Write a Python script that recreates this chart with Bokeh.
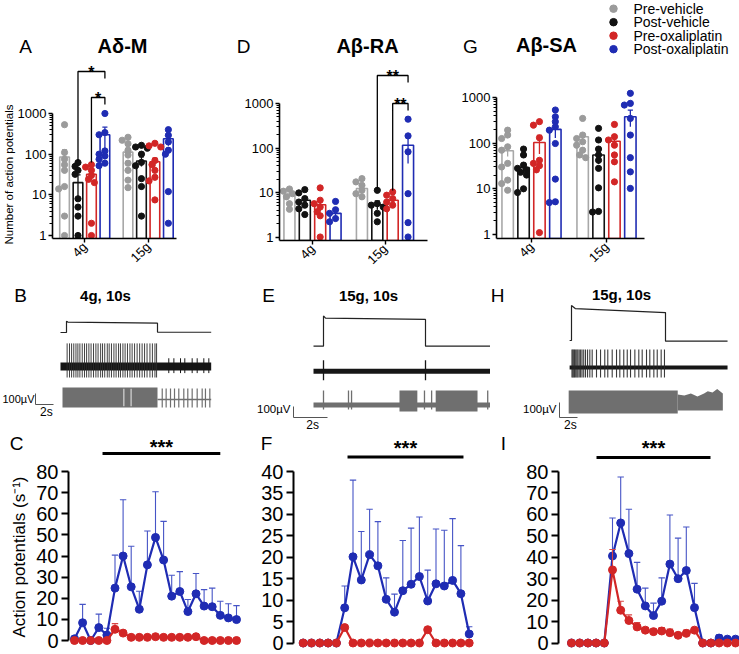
import math
from bokeh.plotting import figure
from bokeh.layouts import column, row
from bokeh.models import Range1d, FixedTicker, Label, PrintfTickFormatter, Title
from bokeh.embed import file_html
from bokeh.resources import INLINE

FONT = "Liberation Sans"
GRAY, BLACK, RED, BLUE = "#9b9b9b", "#121212", "#d22626", "#1f2cb3"
DOT_COLORS = [GRAY, BLACK, RED, BLUE]
BAR_COLORS = ["#a8a8a8", "#121212", "#d22626", "#1f2cb3"]
TRACE_DARK = "#161616"
TRACE_GRAY = "#6f6f6f"

# ---------------- data ----------------
groups = ["4g", "15g"]
series = ["Pre-vehicle", "Post-vehicle", "Pre-oxaliplatin", "Post-oxaliplatin"]
log_ticks = [1, 10, 100, 1000]

# A: Adelta-M  (per group: [pre-veh, post-veh, pre-oxa, post-oxa])
adm_mean = [[85, 20, 32, 300], [112, 68, 65, 240]]
adm_sem = [[45, 11, 9, 160], [22, 18, 15, 80]]
adm_dots = [
    [[530, 110, 75, 55, 40, 16, 14, 3, 1],
     [62, 50, 40, 32, 8, 5, 3, 1],
     [55, 48, 40, 30, 24, 20, 2, 1],
     [1000, 340, 300, 120, 100, 90, 75, 60, 52]],
    [[260, 220, 180, 125, 95, 60, 40, 23, 15],
     [165, 150, 140, 100, 63, 52, 25, 16, 3],
     [185, 160, 150, 70, 55, 40, 27, 22, 7.5],
     [400, 290, 200, 125, 100, 12, 2]],
]
# D: Abeta-RA
ara_mean = [[8.7, 6.7, 5.3, 3.4], [12.3, 5.3, 6.7, 115]]
ara_sem = [[1.0, 1.1, 1.5, 0.5], [1.8, 1.2, 0.8, 70]]
ara_dots = [
    [[12, 10.7, 9.4, 8, 5.6, 4.2],
     [11.6, 9.8, 7.3, 6.1, 5.2, 4.3, 3.2],
     [12.7, 6.7, 5.6, 4.7, 3.7, 3, 1],
     [6.3, 4.1, 3.4, 2.6, 2.2]],
    [[20.5, 17.3, 14.5, 11.2, 9.4, 8],
     [11.2, 5.6, 5.2, 4.7, 3.4, 2.2],
     [10.3, 8.7, 7.3, 6.1, 5.2, 4.3],
     [445, 187, 82, 9.4, 2.1, 1]],
]
# G: Abeta-SA
asa_mean = [[68, 29, 103, 200], [138, 55, 110, 377]]
asa_sem = [[17, 7, 45, 70], [25, 20, 22, 150]]
asa_dots = [
    [[192, 150, 126, 83, 70, 36, 30, 15.5, 13, 9.3],
     [74, 55, 33, 28, 26, 23, 20, 10, 8.3],
     [295, 247, 131, 42, 36, 32, 26, 1.1],
     [530, 377, 295, 228, 192, 98, 16.3, 5.2, 5]],
    [[347, 150, 126, 107, 90, 70, 55, 48],
     [210, 117, 74, 55, 42, 28, 10.5, 3.2, 3.1],
     [256, 138, 117, 90, 55, 39, 14.2],
     [1230, 740, 680, 347, 150, 48, 23.5, 10.2]],
]

# time-course panels (1-s bins)
bins = list(range(21))
c_post = [0.8, 8.4, 0.0, 6.1, 2.6, 24.8, 40.0, 25.4, 14.8, 35.8, 48.8, 38.1, 21.0, 23.2, 13.7, 22.1, 16.3, 16.0, 11.9, 10.7, 9.9]
c_post_sem = [0.0, 8.7, 0.0, 6.4, 3.2, 15.6, 26.6, 19.2, 8.5, 16.0, 21.6, 18.3, 9.9, 9.4, 5.7, 9.6, 7.8, 8.8, 6.7, 6.7, 6.6]
c_pre = [0, 0, 0, 0, 0, 5.3, 3.5, 1.5, 1.5, 1.5, 1.8, 1.5, 1.5, 1.5, 1.5, 1.8, 0, 0, 0, 0, 0]
c_pre_sem = [0, 0, 0, 0, 0, 2.7, 0.8, 0, 0, 0, 0, 0, 0, 0, 0, 0, 0, 0, 0, 0, 0]
f_post = [0, 0, 0, 0, 0, 8.2, 20.1, 14.7, 20.6, 18.0, 10.2, 7.2, 12.2, 13.7, 15.5, 9.8, 13.8, 13.3, 14.6, 11.5, 2.1]
f_post_sem = [0, 0, 0, 0, 0, 5.1, 17.9, 11.3, 10.6, 10.3, 5.0, 4.2, 11.7, 13.1, 13.9, 7.2, 12.8, 13.0, 14.4, 11.2, 1.7]
f_pre = [0, 0, 0, 0, 0, 3.6, 0, 0, 0, 0, 0, 0, 0, 0, 0, 3.1, 0, 0, 0, 0, 0]
f_pre_sem = [0] * 21
i_post = [0, 0, 0, 0, 0, 40.6, 56.0, 41.7, 25.1, 17.3, 12.8, 19.5, 36.8, 30.0, 33.8, 16.5, 0, 0, 2.3, 1.8, 1.8]
i_post_sem = [0, 0, 0, 0, 0, 17.7, 21.4, 20.7, 12.5, 8.3, 5.8, 10.9, 22.9, 18.9, 20.3, 11.3, 0, 0, 1.5, 0.8, 0.8]
i_pre = [0, 0, 0, 0, 0, 34.1, 15.3, 10.5, 7.5, 6.0, 5.3, 5.6, 4.8, 3.6, 4.5, 6.0, 0, 0, 0, 0, 0]
i_pre_sem = [0, 0, 0, 0, 0, 9.5, 4.2, 2.6, 2.0, 1.2, 1.3, 1.6, 1.7, 1.2, 1.5, 0.8, 0, 0, 0, 0, 0]
# significance bars (first bin, last bin)
c_sig = (3.46, 18.0)
f_sig = (5.34, 19.31)
i_sig = (3.05, 16.95)

# example recordings (times in s from stimulus onset, amplitudes in uV, force in g)
b_stim_t = [-0.66, 0.0, 0.0, 0.15, 10.0, 10.0, 15.9]
b_stim_g = [0, 0, 4.3, 4.0, 3.6, 0.1, 0.1]
b_unit_t = [0.07, 0.33, 0.56, 0.80, 1.04, 1.25, 1.47, 1.73, 1.98, 2.21, 2.46, 2.70, 2.97, 3.23,
            3.47, 3.75, 3.96, 4.20, 4.48, 4.69, 4.94, 5.21, 5.45, 5.72, 5.93, 6.20, 6.44, 6.70,
            6.97, 7.21, 7.48, 7.76, 8.04, 8.31, 8.58, 8.85, 9.17, 9.44, 9.72, 9.90]
b_unit_late_t = [11.24, 11.80, 12.53, 13.00, 13.81, 14.36, 15.09, 15.64]
b_filt_gap_t = [6.3, 7.1]
b_filt_late_t = [10.52, 10.95, 11.43, 11.87, 12.34, 12.89, 13.33, 13.81, 14.36, 14.91, 15.27, 15.75]

e_stim_t = [-0.98, 0.0, 0.0, 0.2, 10.0, 10.0, 17.1]
e_stim_g = [0, 0, 16.2, 15.0, 14.3, 0, 0]
e_unit_t = [0.0, 10.0]
e_filt_t = [0.0, 2.45, 2.75, 9.9, 10.6, 16.1]
e_burst_start = [7.45, 11.0]
e_burst_end = [9.2, 15.1]

h_stim_t = [-0.2, 0.0, 0.0, 0.4, 10.0, 10.0, 16.6]
h_stim_g = [0, 0, 16.4, 15.0, 13.1, -0.3, -0.3]
h_unit_t = [0.05, 0.14, 0.24, 0.33, 0.45, 0.57, 0.68, 0.82, 0.97, 1.12, 1.30, 1.49, 1.71, 1.95,
            2.20, 2.66, 3.09, 3.54, 3.86, 4.33, 4.79, 5.14, 5.56, 5.93, 6.28, 6.74, 7.16, 7.52,
            7.98, 8.33, 8.76, 9.12, 9.54, 9.89]
h_post_t = [11.3, 12.0, 12.7, 13.4, 14.1, 14.5, 15.0, 15.5, 16.1]
h_post_up = [53, 47, 60, 40, 60, 75, 67, 90, 60]

OFFSETS = [-0.318, -0.106, 0.106, 0.318]
BAR_W = 0.152


def no_align(p):
    if "frame_align" in p.properties():
        p.frame_align = False
    return p


def add_label(p, x, y, text, size, bold=False, align="center", baseline="middle", angle=0.0):
    p.add_layout(Label(x=x, y=y, text=text, text_font=FONT, text_font_size=f"{size}px",
                       text_font_style="bold" if bold else "normal", text_color="black",
                       text_align=align, text_baseline=baseline, angle=angle))


def blank_fig(x0, w, y0, h):
    """Text-only strip in page-pixel coordinates (y grows downward)."""
    p = figure(width=w, height=h, x_range=Range1d(x0, x0 + w), y_range=Range1d(y0 + h, y0),
               x_axis_type=None, y_axis_type=None, output_backend="svg", toolbar_location=None,
               min_border_left=0, min_border_right=0, min_border_top=0, min_border_bottom=0)
    p.outline_line_color = None
    p.grid.visible = False
    return no_align(p)


def swarm_px(vals, cx, sy_of, step=3.0, mind=4.8):
    placed, xs = [], []
    for v in vals:
        y = sy_of(v)
        chosen = cx
        for k in (0, -1, 1, -2, 2):
            x = cx + k * step
            if all((x - a) ** 2 + (y - b) ** 2 >= mind ** 2 for a, b in placed):
                chosen = x
                break
        placed.append((chosen, y))
        xs.append(chosen)
    return xs


ROW1_TOP, ROW1_BOT = 57, 282


def bar_panel(geo, means, sems, dots, brackets):
    fx, fw, fl, fr, fb = geo["fx"], geo["fw"], geo["fl"], geo["fr"], geo["fb"]
    fy = ROW1_TOP
    fh = ROW1_BOT - fy
    c4, gap, y1, ppd = geo["c4"], geo["gap"], geo["y1"], geo["ppd"]
    X = lambda sx: 1 + (sx - c4) / gap
    Y = lambda sy: 10 ** ((y1 - sy) / ppd)
    SY = lambda v: y1 - ppd * math.log10(v)
    ybot = Y(fb)
    p = figure(width=fw, height=fh, x_range=Range1d(X(fl), X(fr)), y_range=Range1d(ybot, Y(fy)),
               y_axis_type="log", output_backend="svg", toolbar_location=None,
               min_border_left=fl - fx, min_border_right=fx + fw - fr,
               min_border_top=0, min_border_bottom=fy + fh - fb)
    no_align(p)
    p.grid.visible = False
    p.outline_line_color = None
    for gi in range(len(groups)):
        xs = [gi + 1 + o for o in OFFSETS]
        p.vbar(x=xs, width=BAR_W, bottom=ybot, top=means[gi], fill_color=None,
               line_color=BAR_COLORS, line_width=1.6)
        lo = [max(m - s, ybot) for m, s in zip(means[gi], sems[gi])]
        hi = [m + s for m, s in zip(means[gi], sems[gi])]
        cw = 2.6 / gap
        p.segment(x0=xs, y0=lo, x1=xs, y1=hi, line_color=BAR_COLORS, line_width=1.3)
        p.segment(x0=[x - cw for x in xs], y0=hi, x1=[x + cw for x in xs], y1=hi,
                  line_color=BAR_COLORS, line_width=1.3)
        for si in range(len(series)):
            cpx = c4 + (gi + OFFSETS[si]) * gap
            pxs = swarm_px(dots[gi][si], cpx, SY)
            p.scatter(x=[X(v) for v in pxs], y=dots[gi][si], size=6.2,
                      fill_color=DOT_COLORS[si], line_color=DOT_COLORS[si])
    for gi, s_l, s_r, ytop, yend, txt in brackets:
        xl = gi + 1 + OFFSETS[s_l]
        xr = gi + 1 + OFFSETS[s_r]
        p.line(x=[xl, xl, xr, xr], y=[Y(yend), Y(ytop), Y(ytop), Y(ytop + 7)],
               line_color="black", line_width=1.3)
        add_label(p, (xl + xr) / 2, Y(ytop + 1), txt, 16, bold=True, baseline="alphabetic")

    yax = p.yaxis[0]
    yax.ticker = FixedTicker(ticks=log_ticks,
                             minor_ticks=[m * 10 ** k for k in range(3) for m in range(2, 10)])
    yax.formatter = PrintfTickFormatter(format="%d")
    yax.bounds = (ybot, 1000)
    xax = p.xaxis[0]
    xax.ticker = FixedTicker(ticks=[1, 2])
    xax.major_label_overrides = {1: groups[0], 2: groups[1]}
    xax.major_label_orientation = math.pi / 4
    for ax in (xax, yax):
        ax.axis_line_width = 1.6
        ax.axis_line_color = "black"
        ax.major_tick_line_width = 1.4
        ax.major_tick_out = 4
        ax.major_tick_in = 0
        ax.minor_tick_out = 3
        ax.minor_tick_in = 0
        ax.minor_tick_line_width = 1
        ax.major_label_text_font = FONT
        ax.major_label_text_font_size = "13px"
        ax.major_label_text_color = "black"
        ax.major_label_standoff = 2
    return p


ROW3_TOP, ROW3_BOT = 459, 654


def line_panel(geo, post_m, post_s, pre_m, pre_s, ticks, ylabel=None):
    fx, fw, fl, fr = geo["fx"], geo["fw"], geo["fl"], geo["fr"]
    fy = ROW3_TOP
    fh = ROW3_BOT - fy
    X = lambda sx: (sx - geo["x0"]) / geo["pxpu"]
    Y = lambda sy: (geo["zero"] - sy) / geo["ppu"]
    p = figure(width=fw, height=fh, x_range=Range1d(X(fl), X(fr)), y_range=Range1d(Y(fy + fh), Y(fy)),
               x_axis_type=None, output_backend="svg", toolbar_location=None,
               min_border_left=fl - fx, min_border_right=fx + fw - fr,
               min_border_top=0, min_border_bottom=0)
    no_align(p)
    p.grid.visible = False
    p.outline_line_color = None
    capw = 3.2 / geo["pxpu"]
    for m, s, col, ecol in [(post_m, post_s, BLUE, "#4654c6"), (pre_m, pre_s, RED, "#d84444")]:
        xe = [b for b, sv in zip(bins, s) if sv > 0]
        me = [mv for mv, sv in zip(m, s) if sv > 0]
        he = [mv + sv for mv, sv in zip(m, s) if sv > 0]
        p.segment(x0=xe, y0=me, x1=xe, y1=he, line_color=ecol, line_width=1.1)
        p.segment(x0=[x - capw for x in xe], y0=he, x1=[x + capw for x in xe], y1=he,
                  line_color=ecol, line_width=1.1)
        p.line(x=bins, y=m, line_color=col, line_width=2.2)
        p.scatter(x=bins, y=m, size=8, fill_color=col, line_color=col)
    ax = p.yaxis[0]
    ax.ticker = FixedTicker(ticks=ticks)
    ax.bounds = (0, ticks[-1])
    ax.axis_line_width = 2
    ax.axis_line_color = "black"
    ax.major_tick_line_width = 2
    ax.major_tick_out = 7
    ax.major_tick_in = 0
    ax.minor_tick_out = 0
    ax.minor_tick_in = 0
    ax.major_label_text_font = FONT
    ax.major_label_text_font_size = "20px"
    ax.major_label_text_color = "black"
    ax.major_label_standoff = 3
    if ylabel:
        ax.axis_label = ylabel
        ax.axis_label_text_font = FONT
        ax.axis_label_text_font_size = "17px"
        ax.axis_label_text_font_style = "normal"
        ax.axis_label_text_color = "black"
        ax.axis_label_standoff = 4
    return p


ROW2_TOP, ROW2_BOT = 282, 432


def trace_fig(fx, fw, onset_sx, pxps):
    fh = ROW2_BOT - ROW2_TOP
    X = lambda sx: (sx - onset_sx) / pxps
    Y = lambda sy: ROW2_BOT - sy
    p = figure(width=fw, height=fh, x_range=Range1d(X(fx), X(fx + fw)), y_range=Range1d(0, fh),
               x_axis_type=None, y_axis_type=None, output_backend="svg", toolbar_location=None,
               min_border_left=0, min_border_right=0, min_border_top=0, min_border_bottom=0)
    no_align(p)
    p.outline_line_color = None
    p.grid.visible = False
    return p, X, Y


def scale_bar(p, X, Y, pxps, sx, sy, vpx, hpx, tx_right, ty_v, ty_h, fs=11.5):
    x0 = X(sx)
    p.line(x=[x0, x0, x0 + hpx / pxps], y=[Y(sy) + vpx, Y(sy), Y(sy)], line_color="#555555", line_width=1)
    add_label(p, X(tx_right), Y(ty_v), "100\u00b5V", fs, align="right")
    add_label(p, x0 + hpx / pxps / 2 + 0.2, Y(ty_h), "2s", 12)


# ---------------- row 1: header + bar panels ----------------
hdr1 = blank_fig(0, 739, 0, ROW1_TOP)
add_label(hdr1, 25, 45.5, "A", 19)
add_label(hdr1, 122, 45.5, "A\u03b4-M", 20, bold=True)
add_label(hdr1, 243, 45.5, "D", 19)
add_label(hdr1, 367, 45.5, "A\u03b2-RA", 20, bold=True)
add_label(hdr1, 470, 45.5, "G", 19)
add_label(hdr1, 546, 44.5, "A\u03b2-SA", 20, bold=True)
for i, name in enumerate(series):
    yy = 8.2 + 13.5 * i
    hdr1.scatter(x=[613], y=[yy], size=7.5, fill_color=DOT_COLORS[i], line_color=DOT_COLORS[i])
    add_label(hdr1, 633, yy, name, 14, align="left")

geoA = dict(fx=0, fw=238, fl=49, fr=176, fb=238, c4=82, gap=65, y1=235, ppd=40.67)
geoD = dict(fx=238, fw=218, fl=279, fr=427, fb=240, c4=312, gap=72.5, y1=236.5, ppd=44.5)
geoG = dict(fx=456, fw=283, fl=496, fr=644, fb=238, c4=531, gap=75, y1=234, ppd=45.7)

pA = bar_panel(geoA, adm_mean, adm_sem, adm_dots,
               [(0, 1, 3, 71, 160, "*"), (0, 2, 3, 97, 162, "*")])
pA.add_layout(Title(text="Number of action potentials", text_font=FONT, text_font_size="11.5px",
                    text_font_style="normal", text_color="black", align="left",
                    offset=-6, standoff=0), "left")
pD = bar_panel(geoD, ara_mean, ara_sem, ara_dots,
               [(1, 1, 3, 75, 188, "**"), (1, 2, 3, 103, 190, "**")])
pG = bar_panel(geoG, asa_mean, asa_sem, asa_dots, [])

# ---------------- row 2: recordings ----------------
pB, XB, YB = trace_fig(0, 246, 66, 9.1)
G_B = 0.11
pB.line(x=b_stim_t, y=[YB(332) + g * 2.6 for g in b_stim_g], line_color="#222222", line_width=1.2)
pB.quad(left=[b_stim_t[0]], right=[b_stim_t[-1]], bottom=[YB(366) - 36 * G_B], top=[YB(366) + 36 * G_B],
        fill_color=TRACE_DARK, line_color=None)
pB.segment(x0=b_unit_t, y0=[YB(366) - 100 * G_B] * len(b_unit_t), x1=b_unit_t,
           y1=[YB(366) + 210 * G_B] * len(b_unit_t), line_color="#2b2b2b", line_width=1, line_alpha=0.9)
pB.segment(x0=b_unit_late_t, y0=[YB(366) - 60 * G_B] * len(b_unit_late_t), x1=b_unit_late_t,
           y1=[YB(366) + 75 * G_B] * len(b_unit_late_t), line_color=TRACE_DARK, line_width=1)
pB.quad(left=[-0.44], right=[10.0], bottom=[YB(397) - 91 * G_B], top=[YB(397) + 91 * G_B],
        fill_color=TRACE_GRAY, line_color=None)
pB.segment(x0=b_filt_gap_t, y0=[YB(397) - 80 * G_B] * 2, x1=b_filt_gap_t, y1=[YB(397) + 80 * G_B] * 2,
           line_color="#cfcfcf", line_width=1.3)
pB.line(x=[10.0, b_stim_t[-1]], y=[YB(399), YB(399)], line_color=TRACE_GRAY, line_width=1.5)
pB.segment(x0=b_filt_late_t, y0=[YB(399) - 73 * G_B] * len(b_filt_late_t), x1=b_filt_late_t,
           y1=[YB(399) + 100 * G_B] * len(b_filt_late_t), line_color=TRACE_GRAY, line_width=1.2)
scale_bar(pB, XB, YB, 9.1, 35, 404, 11, 18, 34, 398, 411, fs=11)
add_label(pB, XB(20), YB(295), "B", 19)
add_label(pB, XB(105), YB(295), "4g, 10s", 15, bold=True)

pE, XE, YE = trace_fig(246, 244, 323, 10.2)
G_E = 0.11
pE.line(x=e_stim_t, y=[YE(345.7) + g * 1.87 for g in e_stim_g], line_color="#222222", line_width=1.2)
pE.quad(left=[e_stim_t[0]], right=[e_stim_t[-1]], bottom=[YE(370.7) - 23 * G_E], top=[YE(370.7) + 23 * G_E],
        fill_color=TRACE_DARK, line_color=None)
pE.segment(x0=e_unit_t, y0=[YE(370.7) - 82 * G_E] * 2, x1=e_unit_t, y1=[YE(370.7) + 100 * G_E] * 2,
           line_color=TRACE_DARK, line_width=1.3)
pE.quad(left=[e_stim_t[0]], right=[e_stim_t[-1]], bottom=[YE(404.5) - 23 * G_E], top=[YE(404.5) + 23 * G_E],
        fill_color=TRACE_GRAY, line_color=None)
pE.segment(x0=e_filt_t, y0=[YE(404.5) - 41 * G_E] * len(e_filt_t), x1=e_filt_t,
           y1=[YE(404.5) + 132 * G_E] * len(e_filt_t), line_color=TRACE_GRAY, line_width=1.3)
pE.quad(left=e_burst_start, right=e_burst_end, bottom=[YE(404.5) - 59 * G_E] * 2,
        top=[YE(404.5) + 132 * G_E] * 2, fill_color=TRACE_GRAY, line_color=None)
scale_bar(pE, XE, YE, 10.2, 293, 417, 11, 34, 290, 408, 424)
add_label(pE, XE(268), YE(295), "E", 19)
add_label(pE, XE(368), YE(295), "15g, 10s", 15, bold=True)

pH, XH, YH = trace_fig(490, 249, 571, 9.4)
G_H = 0.15
pH.line(x=h_stim_t, y=[YH(340) + g * 2.13 for g in h_stim_g], line_color="#222222", line_width=1.2)
pH.quad(left=[h_stim_t[0]], right=[h_stim_t[-1]], bottom=[YH(367) - 13 * G_H], top=[YH(367) + 13 * G_H],
        fill_color=TRACE_DARK, line_color=None)
pH.segment(x0=h_unit_t, y0=[YH(367) - 67 * G_H] * len(h_unit_t), x1=h_unit_t,
           y1=[YH(367) + 120 * G_H] * len(h_unit_t), line_color="#262626", line_width=1.1, line_alpha=0.9)
pH.quad(left=[-0.3], right=[11.3], bottom=[YH(401.5) - 77 * G_H], top=[YH(401.5) + 77 * G_H],
        fill_color=TRACE_GRAY, line_color=None)
pH.varea(x=h_post_t, y1=[YH(402) - 53 * G_H] * len(h_post_t), y2=[YH(402) + u * G_H for u in h_post_up],
         fill_color=TRACE_GRAY)
scale_bar(pH, XH, YH, 9.4, 559, 417, 15, 18, 556, 408, 424)
add_label(pH, XH(497), YH(295), "H", 19)
add_label(pH, XH(621), YH(294), "15g, 10s", 15, bold=True)

# ---------------- row 3: header + time courses ----------------
geoC = dict(fx=0, fw=245, fl=68, fr=242, x0=74, pxpu=8.1, zero=640, ppu=(640 - 471) / 80)
geoF = dict(fx=245, fw=252, fl=293, fr=478, x0=302.7, pxpu=8.3, zero=642.5, ppu=(642.5 - 471) / 40)
geoI = dict(fx=497, fw=242, fl=558, fr=739, x0=571, pxpu=8.2, zero=642.5, ppu=(642.5 - 471) / 80)

hdr3 = blank_fig(0, 739, ROW2_BOT, ROW3_TOP - ROW2_BOT)
add_label(hdr3, 16, 443, "C", 19)
add_label(hdr3, 266, 443, "F", 19)
add_label(hdr3, 503, 443, "I", 19)
for geo, sig, y_line, y_txt in [(geoC, c_sig, 453, 446), (geoF, f_sig, 456.5, 447.5), (geoI, i_sig, 457, 447.5)]:
    xa = geo["x0"] + sig[0] * geo["pxpu"]
    xb = geo["x0"] + sig[1] * geo["pxpu"]
    hdr3.line(x=[xa, xb], y=[y_line, y_line], line_color="black", line_width=3)
    add_label(hdr3, (xa + xb) / 2, y_txt, "***", 20, bold=True)

pC = line_panel(geoC, c_post, c_post_sem, c_pre, c_pre_sem,
                [0, 10, 20, 30, 40, 50, 60, 70, 80], ylabel="Action potentials (s\u207b\u00b9)")
pF = line_panel(geoF, f_post, f_post_sem, f_pre, f_pre_sem,
                [0, 5, 10, 15, 20, 25, 30, 35, 40])
pI = line_panel(geoI, i_post, i_post_sem, i_pre, i_pre_sem,
                [0, 10, 20, 30, 40, 50, 60, 70, 80])

layout = column(
    hdr1,
    row(pA, pD, pG),
    row(pB, pE, pH),
    hdr3,
    row(pC, pF, pI),
)
open("out.html", "w").write(file_html(layout, INLINE))
